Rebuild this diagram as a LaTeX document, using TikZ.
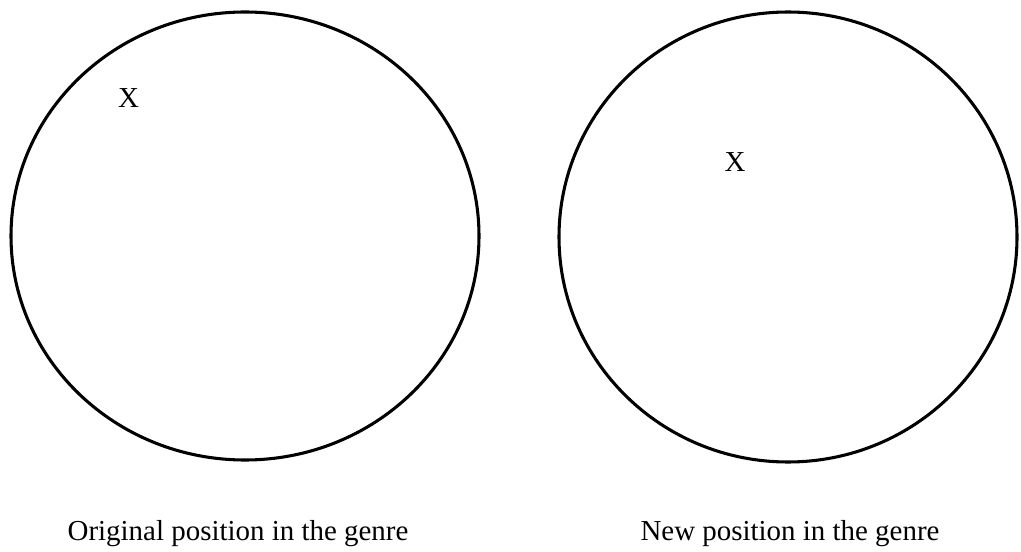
\documentclass[tikz,border=0pt]{standalone}
\usepackage{fontspec}
\setmainfont{Liberation Serif}
\tikzset{
  ring/.style={line width=2.3pt},
  caption/.style={font=\fontsize{21.7}{26}\selectfont, anchor=base, inner sep=0pt},
  xlabel/.style={font=\fontsize{21.7}{26}\selectfont, inner sep=0pt}
}
\begin{document}
\begin{tikzpicture}[x=0.75pt, y=-0.75pt, line join=round, line cap=round]
    % 画布范围
    \useasboundingbox (0,0) rectangle (1021,552);
    
    % 圆心
    \coordinate (O1) at (245,236);
    \coordinate (O2) at (788,237);
    
    % 两个圆
    \draw[ring] (O1) ellipse [x radius=234, y radius=224];
    \draw[ring] (O2) ellipse [x radius=229, y radius=225];
    
    % 位置标记
    \node[xlabel] (X1) at (128.5,98) {X};
    \node[xlabel] (X2) at (735,162) {X};
    
    % 说明文字
    \node[caption] (L1) at (238,540) {Original position in the genre};
    \node[caption] (L2) at (790,540) {New position in the genre};
\end{tikzpicture}
\end{document}
